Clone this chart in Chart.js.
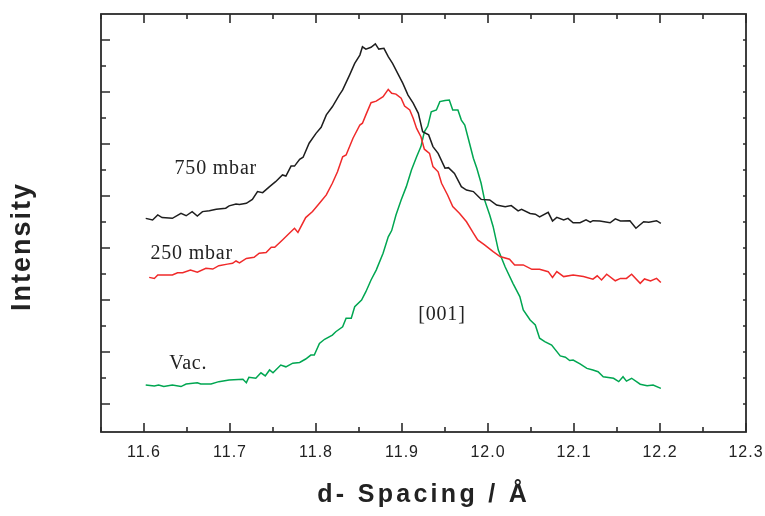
<!DOCTYPE html>
<html><head><meta charset="utf-8">
<script src="https://cdn.jsdelivr.net/npm/chart.js@4"></script>
<style>html,body{margin:0;padding:0;background:#fff}</style>
</head><body>
<canvas id="c" width="765" height="516"></canvas>
<script>
// ---- data ----
const xTickValues = [11.6, 11.7, 11.8, 11.9, 12.0, 12.1, 12.2, 12.3];
const xMinorValues = [11.55, 11.65, 11.75, 11.85, 11.95, 12.05, 12.15, 12.25];
const yTickValues = [1,2,3,4,5,6,7,8,9,10,11,12,13,14,15];

const blackX = [11.602,11.610,11.616,11.621,11.633,11.643,11.649,11.656,11.662,11.668,11.676,11.684,11.695,11.699,11.707,11.711,11.719,11.726,11.732,11.738,11.746,11.753,11.761,11.765,11.771,11.775,11.781,11.785,11.792,11.800,11.806,11.812,11.819,11.827,11.831,11.839,11.845,11.851,11.854,11.858,11.864,11.869,11.873,11.879,11.884,11.889,11.895,11.901,11.907,11.913,11.919,11.924,11.931,11.936,11.942,11.950,11.954,11.961,11.969,11.975,11.983,11.992,12.002,12.010,12.020,12.027,12.035,12.039,12.049,12.055,12.060,12.070,12.075,12.080,12.088,12.093,12.099,12.107,12.114,12.119,12.122,12.130,12.142,12.148,12.154,12.165,12.172,12.181,12.187,12.196,12.201];
const blackY = [8.14,8.08,8.27,8.17,8.14,8.33,8.24,8.40,8.23,8.40,8.43,8.49,8.53,8.62,8.69,8.67,8.72,8.87,9.17,9.13,9.36,9.55,9.81,9.77,10.15,10.15,10.41,10.49,11.03,11.41,11.64,12.12,12.43,12.88,13.08,13.65,14.10,14.42,14.74,14.65,14.72,14.85,14.65,14.68,14.36,14.10,13.72,13.33,12.88,12.57,12.18,11.47,11.35,10.90,10.64,10.07,10.09,9.87,9.36,9.23,9.17,8.87,8.85,8.65,8.59,8.63,8.43,8.49,8.33,8.30,8.20,8.37,8.04,8.18,8.08,8.14,7.97,7.97,8.08,7.99,8.05,8.04,7.97,8.12,8.04,8.05,7.76,8.01,7.99,8.05,7.95];

const redX = [11.606,11.612,11.616,11.633,11.639,11.645,11.654,11.662,11.672,11.680,11.687,11.697,11.703,11.707,11.711,11.719,11.728,11.734,11.742,11.748,11.752,11.761,11.769,11.775,11.779,11.788,11.796,11.804,11.812,11.819,11.825,11.831,11.835,11.843,11.851,11.854,11.858,11.864,11.870,11.878,11.884,11.888,11.893,11.899,11.903,11.909,11.913,11.917,11.922,11.926,11.932,11.936,11.942,11.946,11.953,11.959,11.967,11.975,11.983,11.988,11.996,12.006,12.014,12.025,12.031,12.041,12.051,12.060,12.070,12.075,12.080,12.088,12.099,12.111,12.122,12.127,12.132,12.138,12.148,12.154,12.161,12.167,12.177,12.182,12.189,12.196,12.201];
const redY = [5.87,5.83,5.96,5.96,6.05,6.05,6.15,6.07,6.22,6.19,6.32,6.38,6.41,6.50,6.43,6.60,6.64,6.80,6.83,7.03,7.03,7.31,7.57,7.76,7.60,8.17,8.40,8.72,9.04,9.49,9.93,10.51,10.58,11.22,11.73,11.80,12.12,12.59,12.65,12.82,13.10,12.95,12.92,12.76,12.46,12.31,11.99,11.60,11.28,10.80,10.64,10.13,9.93,9.49,9.04,8.59,8.33,8.01,7.57,7.31,7.12,6.86,6.67,6.57,6.35,6.35,6.18,6.18,6.09,5.87,6.09,5.90,5.96,5.90,5.80,5.93,5.77,5.99,5.74,5.83,5.83,5.99,5.64,5.81,5.73,5.83,5.67];

const greenX = [11.602,11.612,11.617,11.623,11.633,11.643,11.649,11.662,11.666,11.678,11.687,11.699,11.715,11.719,11.722,11.730,11.736,11.741,11.746,11.750,11.759,11.765,11.773,11.781,11.788,11.794,11.798,11.804,11.810,11.819,11.823,11.831,11.835,11.841,11.845,11.853,11.858,11.864,11.870,11.878,11.884,11.888,11.893,11.899,11.905,11.911,11.917,11.922,11.926,11.930,11.934,11.940,11.944,11.950,11.955,11.959,11.965,11.969,11.973,11.977,11.983,11.987,11.992,11.996,12.002,12.006,12.012,12.020,12.029,12.037,12.041,12.049,12.055,12.060,12.066,12.074,12.084,12.090,12.095,12.099,12.107,12.115,12.122,12.128,12.134,12.146,12.152,12.157,12.161,12.167,12.177,12.185,12.192,12.201];
const greenY = [1.73,1.69,1.73,1.67,1.73,1.67,1.77,1.82,1.77,1.77,1.86,1.92,1.95,1.82,2.03,1.99,2.20,2.08,2.31,2.20,2.50,2.43,2.57,2.60,2.73,2.88,2.88,3.33,3.49,3.65,3.78,3.97,4.30,4.30,4.74,5.00,5.32,5.77,6.15,6.80,7.43,7.67,8.27,8.85,9.36,10.00,10.51,10.90,11.47,11.69,12.24,12.31,12.63,12.67,12.69,12.31,12.31,11.92,11.73,11.22,10.45,10.07,9.49,8.85,8.27,7.82,6.92,6.27,5.64,5.13,4.62,4.23,4.04,3.53,3.40,3.27,2.85,2.80,2.67,2.69,2.54,2.37,2.31,2.24,2.05,1.99,1.86,2.05,1.88,1.99,1.76,1.70,1.73,1.60];

const annoText = ['750 mbar', '250 mbar', 'Vac.', '[001]'];
const annoX = [11.683, 11.655, 11.651, 11.946];
const annoY = [10.04, 6.77, 2.54, 4.42];

const xTitle = 'd- Spacing / Å';
const yTitle = 'Intensity';

// ---- helpers ----
const pts = (xs, ys) => xs.map((x, i) => ({x: x, y: ys[i]}));
const AXIS = '#2b2b2b';

function spacedText(ctx, text, cx, cy, spacing) {
  ctx.letterSpacing = spacing + 'px';
  const w = ctx.measureText(text).width - spacing;
  ctx.textAlign = 'left';
  ctx.fillText(text, cx - w / 2, cy);
  ctx.letterSpacing = '0px';
}

const spacingPlugin = {
  id: 'spacing',
  beforeDraw(chart) { chart.ctx.letterSpacing = '1px'; },
  beforeDatasetsDraw(chart) { chart.ctx.letterSpacing = '0px'; }
};

const framePlugin = {
  id: 'frame',
  afterDraw(chart) {
    const {ctx, chartArea: a, scales: {x, y}} = chart;
    ctx.save();
    ctx.strokeStyle = AXIS;
    ctx.lineWidth = 1.8;
    ctx.strokeRect(a.left, a.top, a.right - a.left, a.bottom - a.top);
    ctx.lineWidth = 1.6;
    ctx.beginPath();
    xTickValues.forEach(v => {
      const px = x.getPixelForValue(v);
      ctx.moveTo(px, a.bottom); ctx.lineTo(px, a.bottom - 9);
      ctx.moveTo(px, a.top); ctx.lineTo(px, a.top + 9);
    });
    xMinorValues.forEach(v => {
      const px = x.getPixelForValue(v);
      ctx.moveTo(px, a.bottom); ctx.lineTo(px, a.bottom - 5);
      ctx.moveTo(px, a.top); ctx.lineTo(px, a.top + 5);
    });
    yTickValues.forEach(v => {
      const py = y.getPixelForValue(v);
      const len = (v % 2 === 1) ? 9 : 5;
      ctx.moveTo(a.left, py); ctx.lineTo(a.left + len, py);
      ctx.moveTo(a.right, py); ctx.lineTo(a.right - 3, py);
    });
    ctx.stroke();

    // axis titles
    ctx.fillStyle = '#222';
    ctx.textBaseline = 'middle';
    ctx.font = 'bold 25px "Liberation Sans", Arial, sans-serif';
    spacedText(ctx, xTitle, 422, 495, 3.3);
    ctx.save();
    ctx.translate(22.5, 247.5);
    ctx.rotate(-Math.PI / 2);
    ctx.font = 'bold 27px "Liberation Sans", Arial, sans-serif';
    spacedText(ctx, yTitle, 0, 0, 2);
    ctx.restore();

    // annotations
    ctx.font = '20px "Liberation Serif", "Times New Roman", serif';
    ctx.fillStyle = '#222';
    annoText.forEach((t, i) => {
      spacedText(ctx, t, x.getPixelForValue(annoX[i]), y.getPixelForValue(annoY[i]), 0.8);
    });
    ctx.restore();
  }
};

const ds = (label, xs, ys, color) => ({
  label, data: pts(xs, ys), showLine: true, borderColor: color, backgroundColor: color,
  borderWidth: 1.5, pointRadius: 0, tension: 0, fill: false
});

new Chart(document.getElementById('c').getContext('2d'), {
  type: 'scatter',
  data: {datasets: [
    ds('750 mbar', blackX, blackY, '#1e1e1e'),
    ds('250 mbar', redX, redY, '#f02a2a'),
    ds('Vac.', greenX, greenY, '#00a651')
  ]},
  options: {
    responsive: false, animation: false, devicePixelRatio: 1,
    layout: {padding: {left: 0, top: 14, right: 19, bottom: 0}},
    plugins: {legend: {display: false}, tooltip: {enabled: false}},
    scales: {
      x: {
        type: 'linear', min: 11.55, max: 12.3,
        afterBuildTicks: s => { s.ticks = xTickValues.map(v => ({value: v})); },
        afterFit: s => { s.height = 84; s.paddingLeft = 0; s.paddingRight = 0; },
        grid: {display: false, drawTicks: false},
        border: {display: false},
        ticks: {autoSkip: false, maxRotation: 0, padding: 11, color: '#222',
          font: {family: '"Liberation Sans", Arial, sans-serif', size: 16},
          callback: v => Number(v).toFixed(1)}
      },
      y: {
        type: 'linear', min: -0.077, max: 16,
        afterBuildTicks: s => { s.ticks = yTickValues.map(v => ({value: v})); },
        afterFit: s => { s.width = 101; s.paddingTop = 0; s.paddingBottom = 0; },
        grid: {display: false, drawTicks: false},
        border: {display: false},
        ticks: {display: false}
      }
    }
  },
  plugins: [spacingPlugin, framePlugin]
});
</script>
</body></html>
